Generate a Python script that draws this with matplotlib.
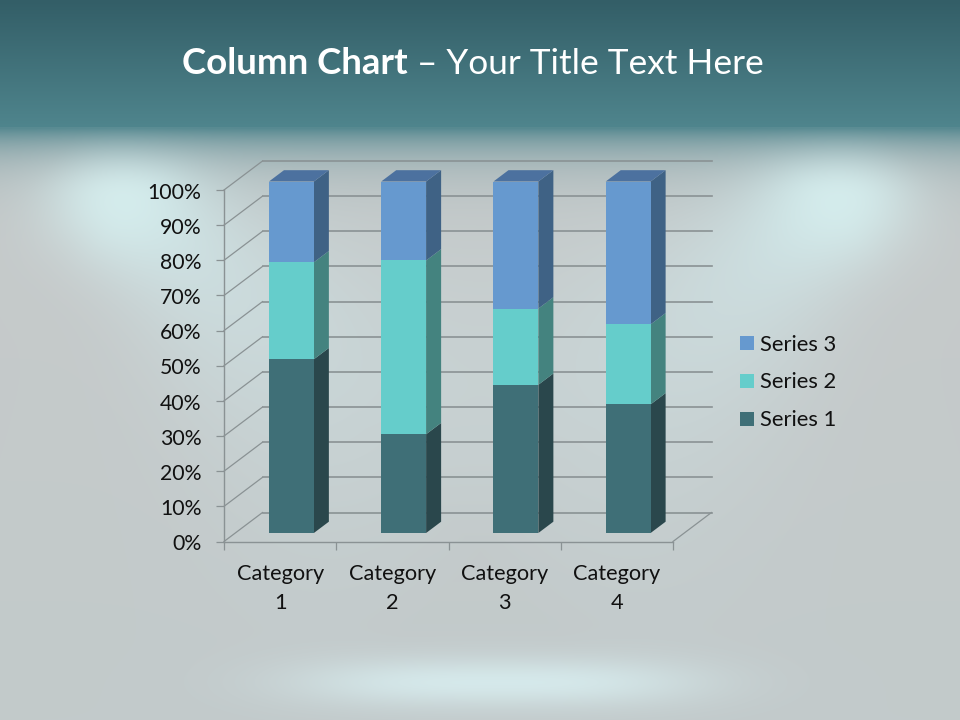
"""Stacked 100% 3-D style column chart on a teal spotlight slide background."""

import matplotlib

matplotlib.use("Agg")
import matplotlib.pyplot as plt
import numpy as np
from matplotlib.patches import Patch, Polygon
from matplotlib.transforms import ScaledTranslation

plt.rcParams["font.family"] = ["Lato", "DejaVu Sans"]

categories = ["Category\n1", "Category\n2", "Category\n3", "Category\n4"]
series_names = ["Series 1", "Series 2", "Series 3"]
series_1 = [4.3, 2.5, 3.5, 4.5]
series_2 = [2.4, 4.4, 1.8, 2.8]
series_3 = [2.0, 2.0, 3.0, 5.0]
y_ticks = [0, 10, 20, 30, 40, 50, 60, 70, 80, 90, 100]

FRONT_COLORS = ["#3F6F77", "#65CDCB", "#6699CF"]
SIDE_COLORS = ["#2A474C", "#44837F", "#3F6285"]
TOP_COLOR = "#4C719F"
GRID_COLOR = "#8A9294"
TEXT_COLOR = "#111111"

W, H = 960, 720
# plot box in pixels, front plane of the 3-D box
LEFT, RIGHT, BOTTOM, TOP = 224, 673, 541.5, 190
CAT_PX = (RIGHT - LEFT) / 4
PCT_PX = (BOTTOM - TOP) / 100
DEPTH_DX = 38.5 / CAT_PX  # full box depth, in category units
DEPTH_DY = 29 / PCT_PX    # full box depth, in percent units
BAR_NEAR, BAR_FAR = 0.293, 0.683
BAR_WIDTH = 0.40


def blend(img, color, alpha):
    """Blend an RGB colour into img with a per-pixel alpha array."""
    rgb = np.array(matplotlib.colors.to_rgb(color))
    return img * (1 - alpha[..., None]) + rgb * alpha[..., None]


def make_background():
    yy, xx = np.mgrid[0:H, 0:W].astype(float)
    t = (yy / H)[..., None]
    img = np.array(matplotlib.colors.to_rgb("#C8CACA")) * (1 - t) \
        + np.array(matplotlib.colors.to_rgb("#C2CACB")) * t

    # soft light beams running from the two spots toward the lower middle
    for sx, ex in ((120, 430), (840, 530)):
        ey = 480
        ux, uy = ex - sx, ey - 190
        length = np.hypot(ux, uy)
        ux, uy = ux / length, uy / length
        along = (xx - sx) * ux + (yy - 190) * uy
        perp = (xx - sx) * uy - (yy - 190) * ux
        sigma = 55 + np.clip(along, 0, None) * 0.3
        fade = np.clip(1 - along / (length * 1.2), 0, 1) * np.clip((along + 70) / 90, 0, 1)
        img = blend(img, "#CFE5E7", 0.9 * fade * np.exp(-(perp / sigma) ** 2))

    # shade falling from the title band
    shade = np.exp(-np.clip(yy - 128, 0, None) / 27) * 0.92
    img = blend(img, "#4E848C", shade)

    # the spots themselves, reaching up into the shade
    for sx in (120, 840):
        sig_y = np.where(yy < 197, 38, 62)
        img = blend(img, "#D6EEEE",
                    0.88 * np.exp(-((xx - sx) / 75) ** 2 - ((yy - 197) / sig_y) ** 2))

    # pool of light on the floor
    img = blend(img, "#D6EAEC",
                0.95 * np.exp(-np.abs((xx - 498) / 205) ** 3 - ((yy - 682) / 25) ** 2))

    # title band
    band = yy < 127
    s = (yy / 127)[..., None]
    top = np.array(matplotlib.colors.to_rgb("#335E67")) * (1 - s) \
        + np.array(matplotlib.colors.to_rgb("#4F858D")) * s
    img = np.where(band[..., None], top, img)
    return np.clip(img, 0, 1)


def project(x, pct, depth):
    """Map a point on the 3-D box to the front-plane data coordinates."""
    return x + DEPTH_DX * depth, pct + DEPTH_DY * depth


fig = plt.figure(figsize=(W / 100, H / 100), dpi=100)

bg = fig.add_axes([0, 0, 1, 1], zorder=0)
bg.imshow(make_background(), aspect="auto", interpolation="bilinear")
bg.axis("off")

ax = fig.add_axes(
    [LEFT / W, 1 - BOTTOM / H, (RIGHT - LEFT) / W, (BOTTOM - TOP) / H], zorder=1
)
ax.patch.set_alpha(0)
ax.set_xlim(0, 4)
ax.set_ylim(0, 100)

# walls and floor
for p in y_ticks:
    x0, y0 = project(0, p, 0)
    x1, y1 = project(0, p, 1)
    x2, y2 = project(4, p, 1)
    ax.plot([x0, x1], [y0, y1], color=GRID_COLOR, lw=0.9, clip_on=False, zorder=1)
    ax.plot([x1, x2], [y1, y2], color=GRID_COLOR, lw=1.2, clip_on=False, zorder=1)
fx, fy = project(4, 0, 0)
bx, by = project(4, 0, 1)
ax.plot([fx, bx], [fy, by], color=GRID_COLOR, lw=0.9, clip_on=False, zorder=1)

# columns
data = np.array([series_1, series_2, series_3], dtype=float)
pct = data / data.sum(axis=0) * 100
cum = np.vstack([np.zeros(4), np.cumsum(pct, axis=0)])
for i in range(len(categories)):
    x0 = i + 0.5 - BAR_WIDTH / 2
    x1 = i + 0.5 + BAR_WIDTH / 2
    for s in range(len(series_names)):
        lo, hi = cum[s, i], cum[s + 1, i]
        front = [project(x0, lo, BAR_NEAR), project(x1, lo, BAR_NEAR),
                 project(x1, hi, BAR_NEAR), project(x0, hi, BAR_NEAR)]
        side = [project(x1, lo, BAR_NEAR), project(x1, lo, BAR_FAR),
                project(x1, hi, BAR_FAR), project(x1, hi, BAR_NEAR)]
        ax.add_patch(Polygon(side, fc=SIDE_COLORS[s], ec="none", clip_on=False, zorder=3))
        ax.add_patch(Polygon(front, fc=FRONT_COLORS[s], ec="none", clip_on=False, zorder=4))
    lid = [project(x0, 100, BAR_NEAR), project(x1, 100, BAR_NEAR),
           project(x1, 100, BAR_FAR), project(x0, 100, BAR_FAR)]
    ax.add_patch(Polygon(lid, fc=TOP_COLOR, ec="none", clip_on=False, zorder=3))

# axes
for name in ("top", "right"):
    ax.spines[name].set_visible(False)
for name in ("left", "bottom"):
    ax.spines[name].set_color(GRID_COLOR)
    ax.spines[name].set_linewidth(1.0)
ax.set_yticks(y_ticks)
ax.set_yticklabels([f"{v}%" for v in y_ticks], fontsize=15.3, color=TEXT_COLOR)
ax.tick_params(axis="y", length=5.8, width=0.9, color=GRID_COLOR, pad=10.5)
nudge = ScaledTranslation(0, -0.7 / 100, fig.dpi_scale_trans)
for label in ax.get_yticklabels():
    label.set_transform(label.get_transform() + nudge)
ax.set_xticks(range(5))
ax.set_xticklabels([])
ax.set_xticks(np.arange(4) + 0.5, minor=True)
ax.set_xticklabels(categories, minor=True, fontsize=15.7, color=TEXT_COLOR, linespacing=1.55)
ax.tick_params(axis="x", which="major", length=5.8, width=0.9, color=GRID_COLOR)
ax.tick_params(axis="x", which="minor", length=0, pad=16)

handles = [Patch(fc=FRONT_COLORS[s], ec="none", label=series_names[s]) for s in (2, 1, 0)]
fig.legend(
    handles=handles, loc="center left", bbox_to_anchor=(720 / W, 1 - 382.5 / H),
    frameon=False, fontsize=15.8, labelcolor=TEXT_COLOR, handlelength=0.64,
    handleheight=0.64, handletextpad=0.27, labelspacing=0.82, borderpad=0.4,
)

title = fig.text(182 / W, 1 - 74.5 / H, "Column Chart", color="white", fontsize=26.4,
                 fontweight="bold", va="baseline", ha="left")
ax.annotate(" \u2013 Your Title Text Here", xy=(1, 0), xycoords=title, color="white",
            fontsize=25.4, va="bottom", ha="left", annotation_clip=False)

fig.savefig("out.png", dpi=100)
